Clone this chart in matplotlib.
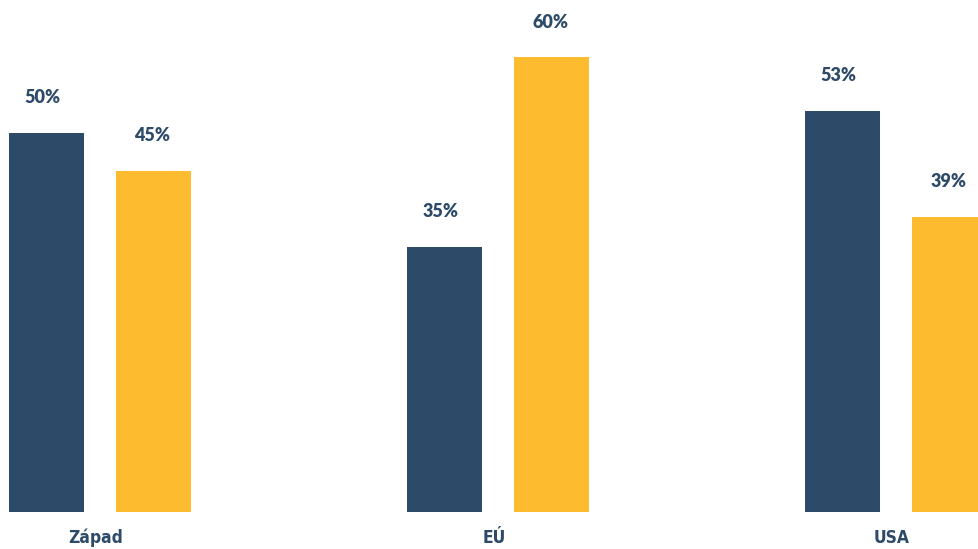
import matplotlib
matplotlib.use("Agg")
import matplotlib.pyplot as plt
import numpy as np

categories = ["Západ", "EÚ", "USA"]
series_a = [50, 35, 53]
series_b = [45, 60, 39]

dark = "#2d4a68"
yellow = "#fdbc2f"

fig = plt.figure(figsize=(9.79, 5.49), dpi=100)
ax = fig.add_axes([0, 37/549, 1, 1 - 37/549])

x = np.arange(len(categories))
unit = 398.0
w = 75 / unit
off = 53.5 / unit
ax.bar(x - off, series_a, width=w, color=dark)
ax.bar(x + off, series_b, width=w, color=yellow)

left = -100 / unit
ax.set_xlim(left, left + 979 / unit)
ax.set_ylim(0, 512 / 7.575)

lab_font = dict(fontsize=13, fontweight="heavy", color=dark,
                family=["Lato", "DejaVu Sans"])
for xi, v in zip(x - off, series_a):
    ax.annotate(f"{v}%", (xi, v), xytext=(-4, 27), textcoords="offset pixels",
                ha="center", va="bottom", **lab_font)
for xi, v in zip(x + off, series_b):
    ax.annotate(f"{v}%", (xi, v), xytext=(-1, 27), textcoords="offset pixels",
                ha="center", va="bottom", **lab_font)

ax.set_xticks(x - 0.01)
ax.set_xticklabels(categories, fontsize=12.5, fontweight="bold", color=dark,
                   fontstretch="condensed",
                   family=["DejaVu Sans", "Roboto"])
ax.tick_params(axis="x", length=0, pad=12)
ax.set_yticks([])
for s in ax.spines.values():
    s.set_visible(False)

fig.savefig("out.png", dpi=100)
